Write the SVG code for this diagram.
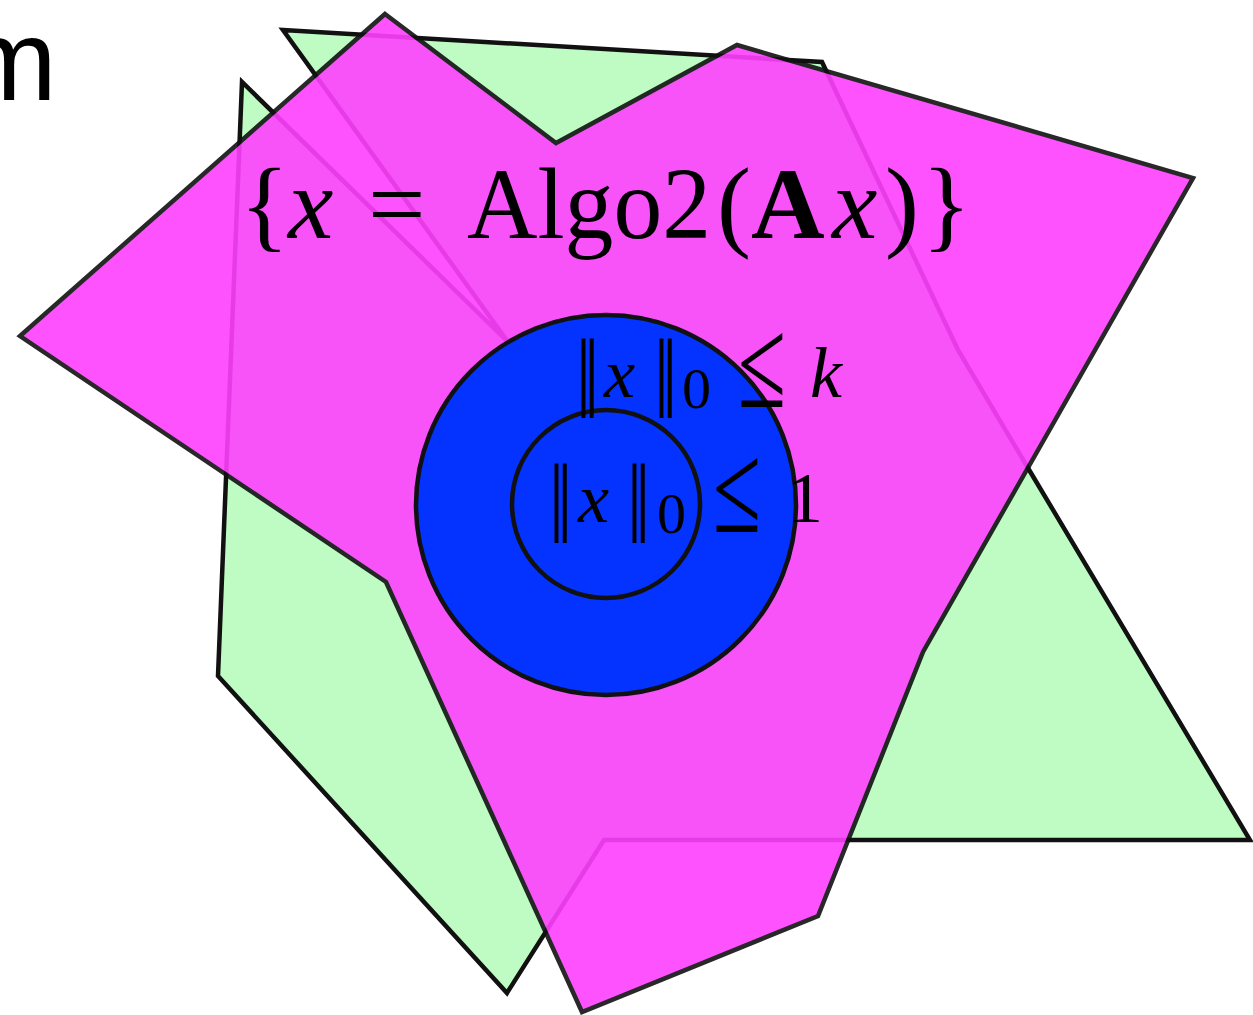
<svg xmlns="http://www.w3.org/2000/svg" width="1253" height="1015" viewBox="0 0 1253 1015">
<style>
.shape{stroke:#111;stroke-width:4.5;stroke-linejoin:miter}
.cm{font-family:"Liberation Serif","DejaVu Serif",serif;fill:#000}
.it{font-style:italic}
.bd{font-weight:bold}
.nm{font-family:"Liberation Serif","DejaVu Serif",serif;font-size:72px;fill:#000}
</style>
<rect width="1253" height="1015" fill="#fff"/>
<text x="-39" y="100" font-family="Liberation Sans, Arial, sans-serif" font-size="115" fill="#000">m</text>
<g id="green-region">
<path class="shape" fill="#bffcc4" d="M283,30 L822,62 L958,350 L1028,468 L1250,840 L604,840 L507,993 L218,676 L242,82 L508,342 Z"/>
</g>
<g id="magenta-region" opacity="0.9">
<path class="shape" fill="#ff40ff" d="M385,14 L556,143 L737,45 L1193,178 L923,652 L818,916 L582,1012 L386,582 L20,336 Z"/>
</g>
<g id="algo2-label">
<text class="cm" font-size="102" y="238"><tspan x="240">{</tspan><tspan class="it" x="288">x</tspan><tspan x="368">=</tspan></text>
<text class="cm" font-size="102" x="467" y="238" textLength="244" lengthAdjust="spacingAndGlyphs">Algo2</text>
<text class="cm" font-size="102" y="238"><tspan x="717">(</tspan><tspan class="bd" x="751">A</tspan><tspan class="it" x="832">x</tspan><tspan x="885">)</tspan><tspan x="922">}</tspan></text>
</g>
<g id="outer-set">
<circle class="shape" fill="#0433ff" cx="606" cy="505" r="190"/>
</g>
<g id="inner-set">
<circle class="shape" fill="#0433ff" cx="606" cy="504" r="94"/>
</g>
<g id="sparse-k-label">
<text class="nm" transform="translate(576,418) scale(1.15,1.6)">‖</text>
<text class="cm it" font-size="70" x="604" y="397">x</text>
<text class="nm" transform="translate(654,418) scale(1.15,1.6)">‖</text>
<text class="cm" font-size="58" x="682" y="408">0</text>
<text class="cm" font-size="86" transform="translate(738,407) scale(1.02,1.5)">≤</text>
<text class="cm it" font-size="72" x="810" y="397">k</text>
</g>
<g id="sparse-1-label">
<text class="nm" transform="translate(549,543) scale(1.15,1.6)">‖</text>
<text class="cm it" font-size="70" x="578" y="522">x</text>
<text class="nm" transform="translate(627,543) scale(1.15,1.6)">‖</text>
<text class="cm" font-size="58" x="657" y="533">0</text>
<text class="cm" font-size="86" transform="translate(713,532) scale(1.02,1.5)">≤</text>
<text class="cm" font-size="72" x="787" y="522">1</text>
</g>
</svg>
